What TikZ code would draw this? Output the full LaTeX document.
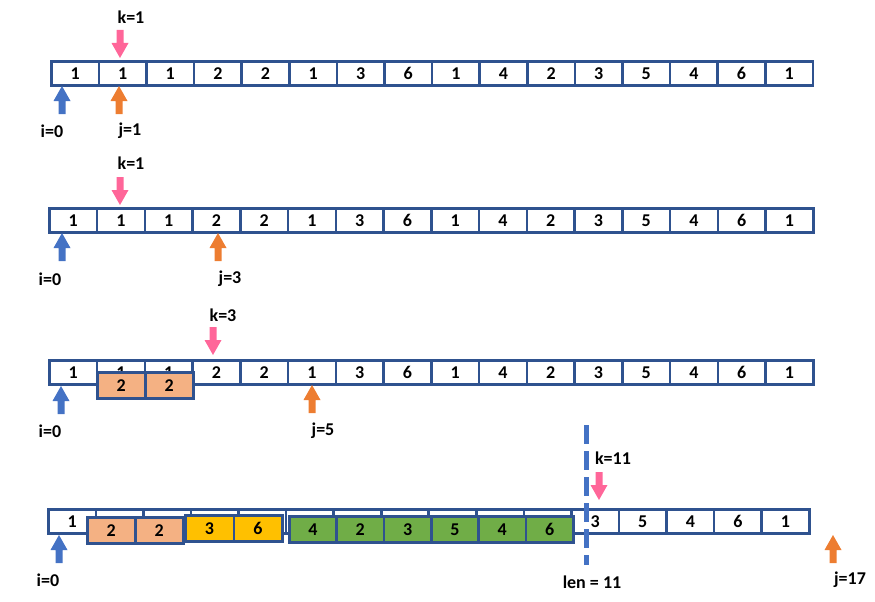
\documentclass[tikz,border=0pt]{standalone}
\usepackage{fontspec}
\setmainfont{Carlito}
\definecolor{bord}{HTML}{2F528F}
\definecolor{pblue}{HTML}{4472C4}
\definecolor{porange}{HTML}{ED7D31}
\definecolor{ppink}{HTML}{FF6699}
\definecolor{fsalmon}{HTML}{F4B183}
\definecolor{fyellow}{HTML}{FFC000}
\definecolor{fgreen}{HTML}{70AD47}
\begin{document}
\begin{tikzpicture}[x=1pt,y=-1pt,
  every node/.style={font=\fontsize{18}{21}\selectfont\bfseries, inner sep=0pt},
  cell/.style={draw=bord, line width=2.6pt, fill=white, minimum height=24pt, anchor=north west},
  boxc/.style={draw=bord, line width=2.6pt, minimum height=26pt, anchor=north west},
  lbl/.style={anchor=center},
  ptrup/.pic={\fill[pic actions] (0,0) -- (8.5,15) -- (3.5,15) -- (3.5,28) -- (-3.5,28) -- (-3.5,15) -- (-8.5,15) -- cycle;},
  ptrdown/.pic={\fill[pic actions] (0,0) -- (8.5,-15) -- (3.5,-15) -- (3.5,-28) -- (-3.5,-28) -- (-3.5,-15) -- (-8.5,-15) -- cycle;}
]
\useasboundingbox (0,0) rectangle (875,602);
% ---------- row 1
\foreach \v [count=\i from 0] in {1,1,1,2,2,1,3,6,1,4,2,3,5,4,6,1}{
  \node[cell, minimum width=47.6pt] (ra\i) at ({50+47.6*\i},60) {\v};
}
\pic[ppink] at (120,58) {ptrdown};
\pic[pblue] at (62,86) {ptrup};
\pic[porange] at (119,86) {ptrup};
\node[lbl] (ka) at (131,17) {k=1};
\node[lbl] (ia) at (52,131) {i=0};
\node[lbl] (ja) at (130,131) {j=1};
% ---------- row 2
\foreach \v [count=\i from 0] in {1,1,1,2,2,1,3,6,1,4,2,3,5,4,6,1}{
  \node[cell, minimum width=47.75pt] (rb\i) at ({48+47.75*\i},207) {\v};
}
\pic[ppink] at (120,205) {ptrdown};
\pic[pblue] at (62,233) {ptrup};
\pic[porange] at (218,233) {ptrup};
\node[lbl] (kb) at (131,163) {k=1};
\node[lbl] (ib) at (50,279) {i=0};
\node[lbl] (jb) at (230,279) {j=3};
% ---------- row 3
\foreach \v [count=\i from 0] in {1,1,1,2,2,1,3,6,1,4,2,3,5,4,6,1}{
  \node[cell, minimum width=47.75pt] (rc\i) at ({48+47.75*\i},359) {\v};
}
\node[boxc, fill=fsalmon, minimum width=48pt] (oc1) at (96,371) {2};
\node[boxc, fill=fsalmon, minimum width=48pt] (oc2) at (144,371) {2};
\pic[ppink] at (213,355) {ptrdown};
\pic[pblue] at (61,386) {ptrup};
\pic[porange] at (312,385) {ptrup};
\node[lbl] (kc) at (223,315) {k=3};
\node[lbl] (ic) at (50,431) {i=0};
\node[lbl] (jc) at (323,431) {j=5};
% ---------- row 4
\foreach \v [count=\i from 0] in {1,,,,,,,,,,,3,5,4,6,1}{
  \node[cell, minimum width=47.56pt] (rd\i) at ({47+47.56*\i},508) {\v};
}
\node[boxc, fill=fsalmon, minimum width=48pt] (od1) at (86,516) {2};
\node[boxc, fill=fsalmon, minimum width=48pt] (od2) at (134,516) {2};
\node[boxc, fill=fyellow, minimum width=48.5pt] (yd1) at (184,514) {3};
\node[boxc, fill=fyellow, minimum width=48.5pt] (yd2) at (232.5,514) {6};
\foreach \v [count=\i from 0] in {4,2,3,5,4,6}{
  \node[boxc, fill=fgreen, minimum width=47.33pt] (gd\i) at ({288+47.33*\i},515) {\v};
}
\coordinate (lentop) at (586,425);
\coordinate (lenbot) at (586,565);
\draw[pblue, line width=5pt, dash pattern=on 19pt off 7pt] (lentop) -- (lenbot);
\pic[ppink] at (599,500) {ptrdown};
\pic[pblue] at (59,535) {ptrup};
\pic[porange] at (833,535) {ptrup};
\node[lbl] (kd) at (613,458) {k=11};
\node[lbl] (id) at (48,580) {i=0};
\node[lbl] (lend) at (592,582) {len = 11};
\node[lbl] (jd) at (850,580) {j=17};
\end{tikzpicture}
\end{document}
